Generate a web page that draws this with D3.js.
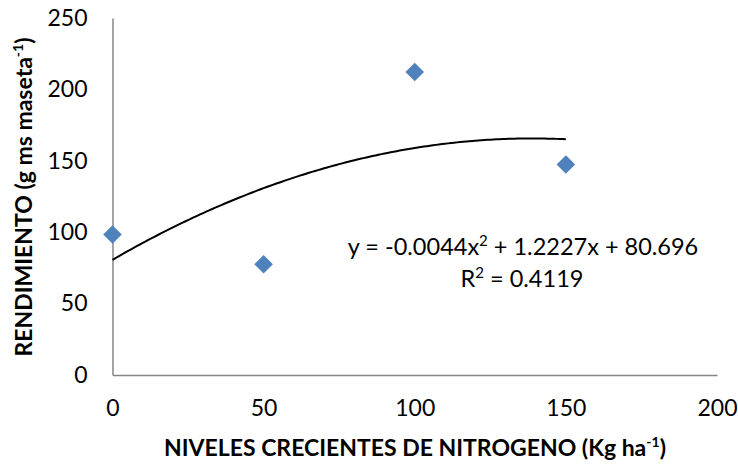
<!DOCTYPE html>
<html>
<head>
<meta charset="utf-8">
<script src="https://cdn.jsdelivr.net/npm/d3@7"></script>
<style>
  html, body { margin: 0; padding: 0; background: #fff; }
  svg { display: block; font-family: Lato, "Open Sans", sans-serif; }
</style>
</head>
<body>
<svg id="chart" width="738" height="464"></svg>
<script>
// Nitrogen levels (kg/ha) and measured yield (g ms/pot)
const nitrogen = [0, 50, 100, 150];
const yieldValues = [98.4, 77.6, 212.2, 147.4];
const xTicks = [0, 50, 100, 150, 200];
const yTicks = [0, 50, 100, 150, 200, 250];
// Quadratic trend line coefficients: y = a x^2 + b x + c
const trendCoef = [-0.0044, 1.2227, 80.696];
const rSquared = 0.4119;

const svg = d3.select("#chart");
const margin = { left: 112.5, right: 21, top: 18, bottom: 89 };
const W = 738, H = 464;

const x = d3.scaleLinear().domain([0, 200]).range([margin.left, W - margin.right]);
const y = d3.scaleLinear().domain([0, 250]).range([H - margin.bottom, margin.top]);

const axisColor = "#868686";

// Y axis
const yAxis = svg.append("g")
  .attr("transform", `translate(${x(0)},0)`)
  .call(d3.axisLeft(y).tickValues(yTicks).tickSize(0).tickPadding(25).tickFormat(d3.format("d")));
yAxis.select(".domain").attr("stroke", axisColor).attr("stroke-width", 1.5);
yAxis.selectAll("text").attr("font-size", 23).attr("fill", "#000").attr("font-family", "Lato, sans-serif");

// X axis
const xAxis = svg.append("g")
  .attr("transform", `translate(0,${y(0)})`)
  .call(d3.axisBottom(x).tickValues(xTicks).tickSize(0).tickPadding(25).tickFormat(d3.format("d")));
xAxis.select(".domain").attr("stroke", axisColor).attr("stroke-width", 1.5);
xAxis.selectAll("text").attr("font-size", 23).attr("fill", "#000").attr("font-family", "Lato, sans-serif");

// Trend line over the measured range
const trendX = d3.range(0, 150.01, 1);
const trend = v => trendCoef[0] * v * v + trendCoef[1] * v + trendCoef[2];
svg.append("path")
  .datum(trendX)
  .attr("fill", "none")
  .attr("stroke", "#000")
  .attr("stroke-width", 2)
  .attr("d", d3.line().x(d => x(d)).y(d => y(trend(d))));

// Data points as diamonds
svg.selectAll(".pt")
  .data(nitrogen.map((n, i) => [n, yieldValues[i]]))
  .join("path")
  .attr("class", "pt")
  .attr("transform", d => `translate(${x(d[0])},${y(d[1])})`)
  .attr("d", d3.symbol(d3.symbolDiamond2, 220)())
  .attr("fill", "#4f81bd");

// Equation and R² labels
const eq = svg.append("text")
  .attr("x", 523).attr("y", 255)
  .attr("text-anchor", "middle")
  .attr("font-size", 23.5);
eq.append("tspan").text(`y = ${trendCoef[0]}x`);
eq.append("tspan").attr("dy", -9).attr("font-size", 15).text("2");
eq.append("tspan").attr("dy", 9).text(` + ${trendCoef[1]}x + ${trendCoef[2]}`);

const r2 = svg.append("text")
  .attr("x", 522).attr("y", 287)
  .attr("text-anchor", "middle")
  .attr("font-size", 23.5);
r2.append("tspan").text("R");
r2.append("tspan").attr("dy", -9).attr("font-size", 15).text("2");
r2.append("tspan").attr("dy", 9).text(` = ${rSquared}`);

// Axis titles
const xt = svg.append("text")
  .attr("x", 415).attr("y", 456)
  .attr("text-anchor", "middle")
  .attr("font-size", 23).attr("font-weight", "bold");
xt.append("tspan").text("NIVELES CRECIENTES DE NITROGENO (Kg ha");
xt.append("tspan").attr("dy", -9).attr("font-size", 14).text("-1");
xt.append("tspan").attr("dy", 9).text(")");

const yt = svg.append("text")
  .attr("transform", "translate(32,197) rotate(-90)")
  .attr("text-anchor", "middle")
  .attr("font-size", 23).attr("font-weight", "bold");
yt.append("tspan").text("RENDIMIENTO (g ms maseta");
yt.append("tspan").attr("dy", -9).attr("font-size", 14).text("-1");
yt.append("tspan").attr("dy", 9).text(")");
</script>
</body>
</html>
